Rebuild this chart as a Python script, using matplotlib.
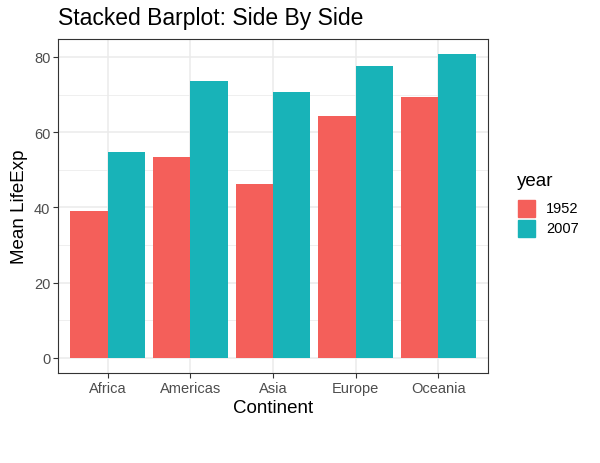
import matplotlib
matplotlib.use("Agg")
import matplotlib.pyplot as plt
from matplotlib.patches import Rectangle
from matplotlib.ticker import MultipleLocator
import numpy as np

continents = ["Africa", "Americas", "Asia", "Europe", "Oceania"]
years = ["1952", "2007"]
life_1952 = [39.14, 53.28, 46.31, 64.41, 69.26]
life_2007 = [54.81, 73.61, 70.73, 77.65, 80.72]
colors = ["#F45F5A", "#18B3B8"]

plt.rcParams['font.family'] = ['Liberation Sans', 'DejaVu Sans']

W, H = 600, 464
fig = plt.figure(figsize=(6, 4.64), dpi=100)
L, R, T, B = 58, 488, 40, 374
ax = fig.add_axes([L / W, 1 - B / H, (R - L) / W, (B - T) / H])

x = np.arange(1, len(continents) + 1)
w = 0.45
ax.bar(x - w / 2, life_1952, width=w, color=colors[0], zorder=3, linewidth=0)
ax.bar(x + w / 2, life_2007, width=w, color=colors[1], zorder=3, linewidth=0)

ymax = max(life_2007)
ax.set_ylim(-0.05 * ymax, 1.05 * ymax)
ax.set_xlim(0.4, 5.6)
ax.set_xticks(x)
ax.set_xticklabels(continents)
ax.yaxis.set_major_locator(MultipleLocator(20))
ax.yaxis.set_minor_locator(MultipleLocator(10))
ax.grid(which='major', color='#EBEBEB', linewidth=1.1, zorder=0)
ax.grid(which='minor', axis='y', color='#EBEBEB', linewidth=0.55, zorder=0)
ax.tick_params(which='minor', length=0)
ax.tick_params(which='major', length=3.5, width=0.8, color='#333333',
               labelcolor='#4D4D4D', labelsize=10.5, pad=2)
for s in ax.spines.values():
    s.set_color('#333333')
    s.set_linewidth(0.8)
ax.set_axisbelow(True)

ax.set_xlabel("Continent", fontsize=13.5, labelpad=3)
ax.set_ylabel("Mean LifeExp", fontsize=13.5, labelpad=4)
fig.text(L / W, 1 - 18.5 / H, "Stacked Barplot: Side By Side", fontsize=16.5,
         ha='left', va='center')

# legend
fig.text(517 / W, 1 - 182 / H, "year", fontsize=13.5, ha='left', va='center')
for i, (lab, c) in enumerate(zip(years, colors)):
    yc = 209 + i * 20
    fig.patches.append(Rectangle((518 / W, 1 - (yc + 8.5) / H), 17 / W, 17 / H,
                                 transform=fig.transFigure, color=c))
    fig.text(546 / W, 1 - yc / H, lab, fontsize=10.5, ha='left', va='center')

fig.savefig("out.png", dpi=100)
